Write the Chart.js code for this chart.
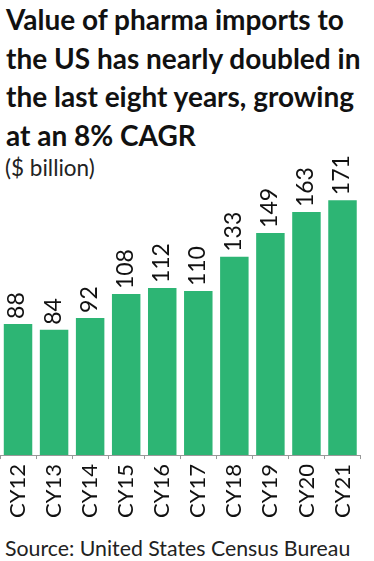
<!DOCTYPE html>
<html>
<head>
<meta charset="utf-8">
<script src="https://cdn.jsdelivr.net/npm/chart.js@4"></script>
<style>
  html, body { margin: 0; padding: 0; background: #fff; }
  body { width: 374px; height: 561px; position: relative; overflow: hidden; font-family: Lato, "Noto Sans", sans-serif; color: #111; }
  #titel { position: absolute; left: 6px; top: 0px; font-weight: 700; font-size: 28px; line-height: 38.5px; }
  #jednotka { position: absolute; left: 5px; top: 154px; font-size: 22.5px; color: #222; }
  #zdroj { position: absolute; left: 5px; top: 535px; font-size: 21.3px; color: #222; }
  #obal { position: absolute; left: 0; top: 145px; width: 374px; height: 385px; }
</style>
</head>
<body>
<div id="titel">Value of pharma imports to<br>the US has nearly doubled in<br>the last eight years, growing<br>at an 8% CAGR</div>
<div id="jednotka">($ billion)</div>
<div id="obal"><canvas id="graf"></canvas></div>
<div id="zdroj">Source: United States Census Bureau</div>
<script>
  // data
  const ROKY = ["CY12", "CY13", "CY14", "CY15", "CY16", "CY17", "CY18", "CY19", "CY20", "CY21"];
  const HODNOTY = [88, 84, 92, 108, 112, 110, 133, 149, 163, 171];

  const ZELENA = "#2db574";
  const PISMO = "Lato, 'Noto Sans', sans-serif";

  // popisky hodnot nad sloupci, otočené o 90°
  const popisky = {
    id: "popisky",
    afterDatasetsDraw(chart) {
      const ctx = chart.ctx;
      const meta = chart.getDatasetMeta(0);
      ctx.save();
      ctx.fillStyle = "#111";
      ctx.font = "23px " + PISMO;
      ctx.textAlign = "left";
      ctx.textBaseline = "middle";
      meta.data.forEach((bar, i) => {
        ctx.save();
        ctx.translate(bar.x - 1, bar.y - 5);
        ctx.rotate(-Math.PI / 2);
        ctx.fillText(String(HODNOTY[i]), 0, 0);
        ctx.restore();
      });
      ctx.restore();
    }
  };

  new Chart(document.getElementById("graf"), {
    type: "bar",
    data: {
      labels: ROKY,
      datasets: [{ data: HODNOTY, backgroundColor: ZELENA,
        categoryPercentage: 1, barPercentage: 0.79 }]
    },
    options: {
      responsive: true, maintainAspectRatio: false, animation: false,
      layout: { padding: { left: 0, right: 2, top: 0, bottom: 7 } },
      plugins: { legend: { display: false }, tooltip: { enabled: false } },
      scales: {
        y: { display: false, min: 0, max: 208 },
        x: {
          offset: true,
          border: { display: true, color: "#999", width: 1 },
          grid: { display: true, drawOnChartArea: false, drawTicks: true, tickLength: 4, color: "#999", offset: true },
          ticks: { color: "#111", minRotation: 90, maxRotation: 90, padding: 5,
            font: { family: PISMO, size: 22 } }
        }
      }
    },
    plugins: [popisky]
  });
</script>
</body>
</html>
